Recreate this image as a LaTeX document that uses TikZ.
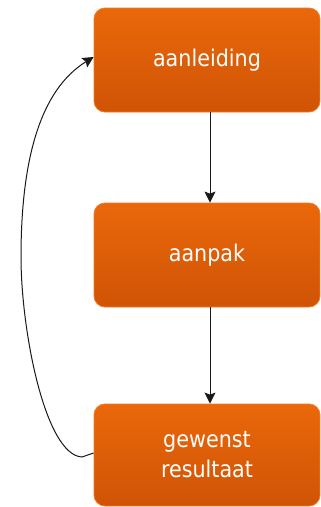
\documentclass[tikz,border=0pt]{standalone}
\usepackage{fontspec}
\setmainfont{DejaVu Sans Condensed}
\usetikzlibrary{arrows.meta}
\definecolor{boxtop}{RGB}{234,104,10}
\definecolor{boxbot}{RGB}{208,84,6}
\definecolor{boxrim}{RGB}{242,122,34}
\definecolor{linec}{RGB}{25,25,25}
\tikzset{
  stepbox/.style={rounded corners=11pt, draw=boxrim, line width=0.8pt,
    top color=boxtop, bottom color=boxbot, text=white,
    minimum width=226pt, align=center, font=\fontsize{23}{30}\selectfont},
  conn/.style={draw=linec, line width=1pt, -{Stealth[length=11pt,width=11pt,inset=2pt]}}
}
\begin{document}
\begin{tikzpicture}[x=1pt,y=-1pt]
\useasboundingbox (0,0) rectangle (321,507);
\node[stepbox, minimum height=104pt] (b1) at (207,60) {aanleiding};
\node[stepbox, minimum height=104pt] (b2) at (207,255) {aanpak};
\node[stepbox, minimum height=102pt] (b3) at (207,455) {gewenst\\resultaat};
\draw[conn] ([xshift=3pt]b1.south) -- ([xshift=3pt]b2.north);
\draw[conn] ([xshift=3pt]b2.south) -- ([xshift=3pt]b3.north);
\coordinate (c1) at (82,457);
\coordinate (c2) at (21,257);
\draw[conn] ([yshift=2pt]b3.west) -- (c1) .. controls (45,455) and (21,330) .. (c2)
  .. controls (21,160) and (40,90) .. ([yshift=3pt]b1.west);
\end{tikzpicture}
\end{document}
